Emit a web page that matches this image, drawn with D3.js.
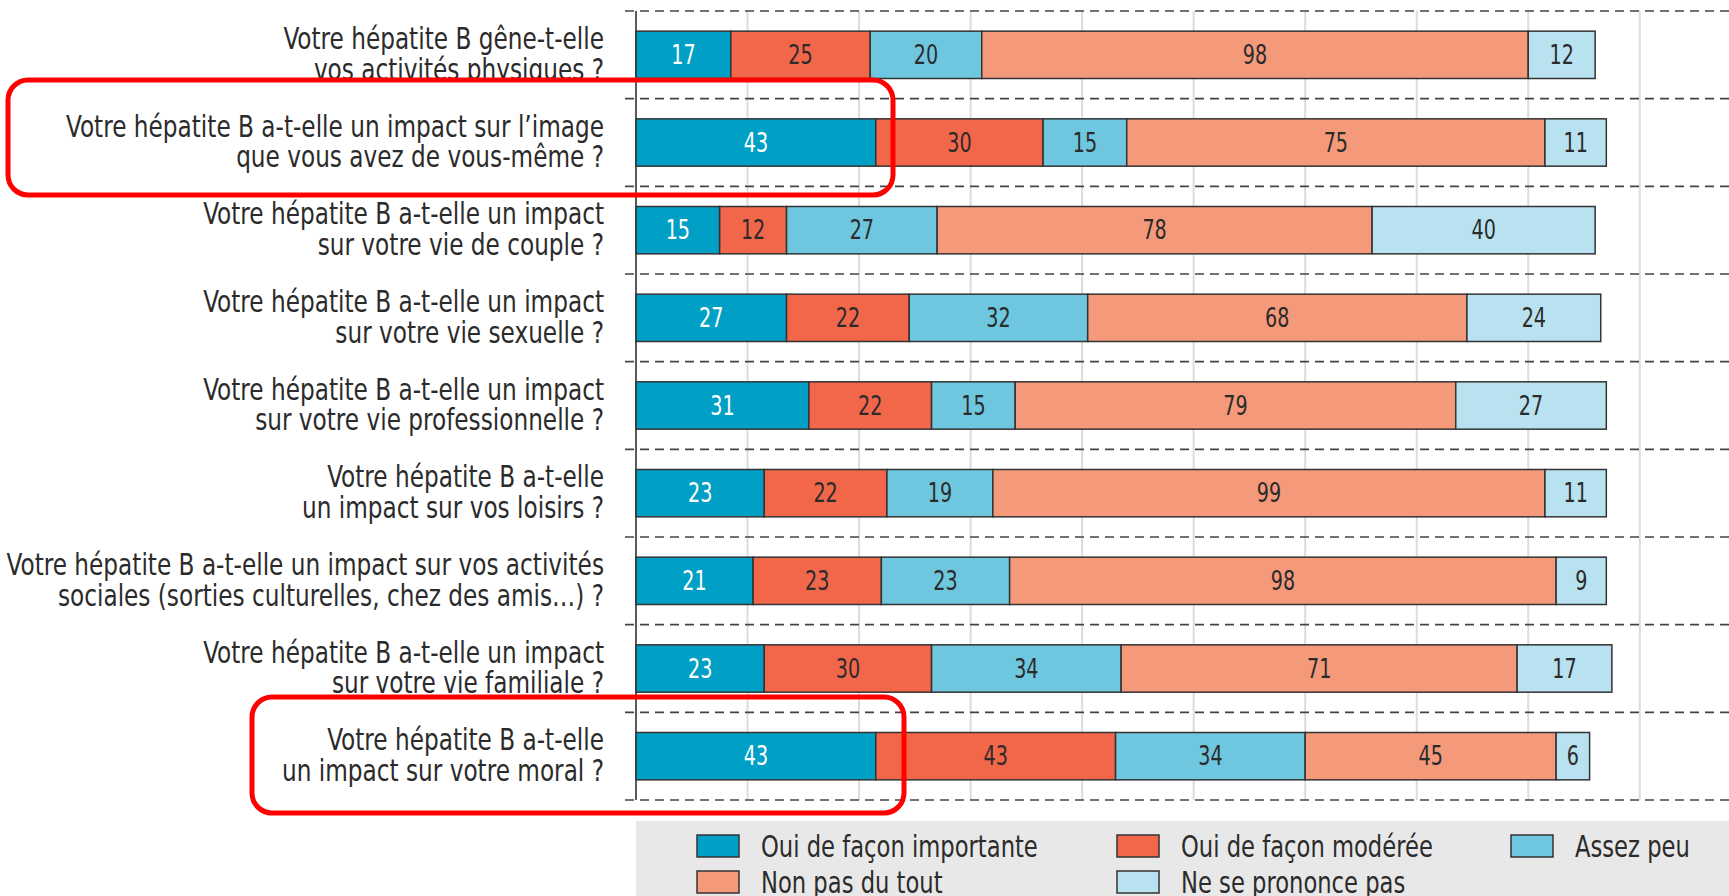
<!DOCTYPE html>
<html>
<head>
<meta charset="utf-8">
<script src="https://cdn.jsdelivr.net/npm/d3@7"></script>
<style>
  body { margin: 0; background: #fff; }
  text { font-family: "Liberation Sans Narrow", "DejaVu Sans Condensed", sans-serif; }
</style>
</head>
<body>
<div id="chart"></div>
<script>
//* data
var questions = [
  ["Votre hépatite B gêne-t-elle", "vos activités physiques ?"],
  ["Votre hépatite B a-t-elle un impact sur l’image", "que vous avez de vous-même ?"],
  ["Votre hépatite B a-t-elle un impact", "sur votre vie de couple ?"],
  ["Votre hépatite B a-t-elle un impact", "sur votre vie sexuelle ?"],
  ["Votre hépatite B a-t-elle un impact", "sur votre vie professionnelle ?"],
  ["Votre hépatite B a-t-elle", "un impact sur vos loisirs ?"],
  ["Votre hépatite B a-t-elle un impact sur vos activités", "sociales (sorties culturelles, chez des amis…) ?"],
  ["Votre hépatite B a-t-elle un impact", "sur votre vie familiale ?"],
  ["Votre hépatite B a-t-elle", "un impact sur votre moral ?"]
]
var answers = ["Oui de façon importante", "Oui de façon modérée", "Assez peu", "Non pas du tout", "Ne se prononce pas"]
var importante = [17, 43, 15, 27, 31, 23, 21, 23, 43]
var moderee    = [25, 30, 12, 22, 22, 22, 23, 30, 43]
var assezPeu   = [20, 15, 27, 32, 15, 19, 23, 34, 34]
var pasDuTout  = [98, 75, 78, 68, 79, 99, 98, 71, 45]
var nsp        = [12, 11, 40, 24, 27, 11,  9, 17,  6]
var gridTicks = [20, 40, 60, 80, 100, 120, 140, 160, 180]
var highlighted = [1, 8] //? rows circled in red

var colors = ["#009fc6", "#f2664a", "#6fc6df", "#f5997b", "#b8e2ef"]
var series = [importante, moderee, assezPeu, pasDuTout, nsp]

var width = 1729, height = 896
var narrow = 0.86 //? horizontal squeeze, the original uses a condensed face

var svg = d3.select("#chart")
  .append("svg")
    .attr("width", width)
    .attr("height", height)

var x = d3.scaleLinear().domain([0, 196]).range([636, width])
var y = d3.scaleBand()
  .domain(d3.range(questions.length))
  .range([11, 800])
  .paddingInner(0.46)
  .paddingOuter(0.23)
var step = y.step()
var color = d3.scaleOrdinal().domain(answers).range(colors)

// stack rows
var rows = questions.map(function (q, i) {
  var acc = 0
  return series.map(function (s, k) {
    var seg = {row: i, key: answers[k], k: k, v: s[i], x0: acc, x1: acc + s[i]}
    acc += s[i]
    return seg
  })
})

//* layers: labels under the red boxes fill, fill, plot, red strokes
var lowLabels = svg.append("g")
var boxFill = svg.append("g")
var plot = svg.append("g")
var boxStroke = svg.append("g")

function drawLabel(g, i) {
  var cy = y(i) + y.bandwidth() / 2
  var t = g.append("text")
    .attr("transform", "translate(604," + (cy - 6) + ") scale(" + narrow + ",1)")
    .attr("text-anchor", "end")
    .attr("font-size", "30px")
    .attr("fill", "#2b2b2b")
  t.append("tspan").attr("x", 0).attr("y", 0).text(questions[i][0])
  t.append("tspan").attr("x", 0).attr("y", 31).text(questions[i][1])
}

// gridlines
plot.selectAll(".grid")
  .data(gridTicks)
  .enter()
  .append("line")
    .attr("x1", function (d) { return x(d) })
    .attr("x2", function (d) { return x(d) })
    .attr("y1", 11)
    .attr("y2", 800)
    .attr("stroke", "#dcdcdc")
    .attr("stroke-width", 2)

// dashed row separators
plot.selectAll(".sep")
  .data(d3.range(questions.length + 1))
  .enter()
  .append("line")
    .attr("x1", 625)
    .attr("x2", width)
    .attr("y1", function (d) { return 11 + d * step })
    .attr("y2", function (d) { return 11 + d * step })
    .attr("stroke", "#444")
    .attr("stroke-width", 1.6)
    .attr("stroke-dasharray", "9,6")

// axis line
plot.append("line")
  .attr("x1", x(0)).attr("x2", x(0))
  .attr("y1", 11).attr("y2", 800)
  .attr("stroke", "#333")
  .attr("stroke-width", 1.6)

questions.forEach(function (q, i) {
  if (highlighted.includes(i)) drawLabel(plot, i)
  else drawLabel(lowLabels, i)
})

// bars
var segs = [].concat.apply([], rows)
plot.selectAll("rect.seg")
  .data(segs)
  .enter()
  .append("rect")
    .attr("x", function (d) { return x(d.x0) })
    .attr("y", function (d) { return y(d.row) })
    .attr("width", function (d) { return x(d.x1) - x(d.x0) })
    .attr("height", y.bandwidth())
    .attr("fill", function (d) { return color(d.key) })
    .attr("stroke", "#333")
    .attr("stroke-width", 1.5)

plot.selectAll("text.val")
  .data(segs)
  .enter()
  .append("text")
    .attr("transform", function (d) {
      return "translate(" + (x(d.x0) + x(d.x1)) / 2 + "," + (y(d.row) + y.bandwidth() / 2 + 9) + ") scale(0.82,1)"
    })
    .attr("text-anchor", "middle")
    .attr("font-size", "26px")
    .attr("fill", function (d) { return d.k == 0 ? "#fff" : "#2b2b2b" })
    .text(function (d) { return d.v })

//* red annotation boxes
var boxes = [
  {x: 8, y: 80, w: 885, h: 115},
  {x: 252, y: 697, w: 652, h: 116}
]
boxFill.selectAll("rect")
  .data(boxes)
  .enter()
  .append("rect")
    .attr("x", function (d) { return d.x })
    .attr("y", function (d) { return d.y })
    .attr("width", function (d) { return d.w })
    .attr("height", function (d) { return d.h })
    .attr("rx", 20)
    .attr("fill", "#fff")
boxStroke.selectAll("rect")
  .data(boxes)
  .enter()
  .append("rect")
    .attr("x", function (d) { return d.x })
    .attr("y", function (d) { return d.y })
    .attr("width", function (d) { return d.w })
    .attr("height", function (d) { return d.h })
    .attr("rx", 20)
    .attr("fill", "none")
    .attr("stroke", "#f00")
    .attr("stroke-width", 5)

//* legend
var legend = svg.append("g")
legend.append("rect")
  .attr("x", 636).attr("y", 821)
  .attr("width", width - 636).attr("height", height - 821)
  .attr("fill", "#e8e8e8")

var legCols = [697, 1117, 1511]
var legRows = [835, 871]
var items = legend.selectAll("g.item")
  .data(answers)
  .enter()
  .append("g")
    .attr("transform", function (d, i) {
      return "translate(" + legCols[i % 3] + "," + legRows[Math.floor(i / 3)] + ")"
    })
items.append("rect")
  .attr("width", 42).attr("height", 22)
  .attr("fill", function (d) { return color(d) })
  .attr("stroke", "#333")
  .attr("stroke-width", 1.5)
items.append("text")
  .attr("transform", "translate(64,22) scale(0.84,1)")
  .attr("font-size", "30px")
  .attr("fill", "#2b2b2b")
  .text(function (d) { return d })
</script>
</body>
</html>
